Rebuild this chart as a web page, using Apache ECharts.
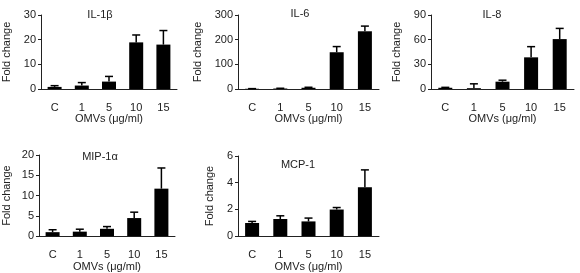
<!DOCTYPE html>
<html>
<head>
<meta charset="utf-8">
<script src="https://cdn.jsdelivr.net/npm/echarts@6/dist/echarts.min.js"></script>
<style>html,body{margin:0;padding:0;background:#fff}#c{width:580px;height:273px}</style>
</head>
<body>
<div id="c"></div>
<script>
const categories = ['C', '1', '5', '10', '15'];
const il1b = [0.85, 1.4, 3.0, 18.9, 18.0];
const il1bErr = [0.5, 1.2, 2.1, 3.0, 5.7];
const il6 = [1, 2, 5, 149, 234];
const il6Err = [0.5, 1, 2, 23, 21];
const il8 = [1.5, 1.0, 8.9, 38.5, 60.7];
const il8Err = [0.5, 5.3, 1.8, 13, 13];
const mip = [0.97, 1.1, 1.8, 4.45, 11.7];
const mipErr = [0.6, 0.6, 0.55, 1.45, 5.1];
const mcp = [0.98, 1.28, 1.1, 1.99, 3.66];
const mcpErr = [0.12, 0.24, 0.25, 0.15, 1.3];
const titles = ['IL-1β', 'IL-6', 'IL-8', 'MIP-1α', 'MCP-1'];
const yMax = [30, 300, 90, 20, 6];
const yInterval = [10, 100, 30, 5, 2];

const panels = [
  {vals: il1b, errs: il1bErr},
  {vals: il6, errs: il6Err},
  {vals: il8, errs: il8Err},
  {vals: mip, errs: mipErr},
  {vals: mcp, errs: mcpErr}
];

const layout = [
  {left: 35, top: 15, width: 142, height: 74, gap: 29, tx: 100, ty: 15},
  {left: 238, top: 15, width: 141, height: 74, gap: 35, tx: 300, ty: 14},
  {left: 431, top: 15, width: 143, height: 74, gap: 29, tx: 492, ty: 15},
  {left: 34, top: 155, width: 141, height: 82, gap: 27, tx: 100, ty: 157},
  {left: 238, top: 156, width: 141, height: 81, gap: 23, tx: 298, ty: 165}
];

const font = 'Liberation Sans, Arial, sans-serif';
const txt = '#222';
const grid = [], xAxis = [], yAxis = [], series = [], graphic = [];

layout.forEach((L, i) => {
  grid.push({left: L.left, top: L.top, width: L.width, height: L.height, containLabel: false});
  xAxis.push({
    type: 'category', gridIndex: i, data: categories,
    axisLine: {lineStyle: {color: '#222', width: 1}},
    axisTick: {show: false},
    axisLabel: {color: txt, fontSize: 11, fontFamily: font, margin: 13},
    name: 'OMVs (μg/ml)', nameLocation: 'middle', nameGap: 23,
    nameTextStyle: {color: txt, fontSize: 11, fontFamily: font}
  });
  yAxis.push({
    type: 'value', gridIndex: i, min: 0, max: yMax[i], interval: yInterval[i],
    axisLine: {show: true, lineStyle: {color: '#222', width: 1}},
    axisTick: {show: true, length: 3, lineStyle: {color: '#222'}},
    splitLine: {show: false},
    axisLabel: {color: txt, fontSize: 11, fontFamily: font, margin: 5},
    name: 'Fold change', nameLocation: 'middle', nameGap: L.gap, nameRotate: 90,
    nameTextStyle: {color: txt, fontSize: 11, fontFamily: font}
  });
  series.push({
    type: 'bar', xAxisIndex: i, yAxisIndex: i, data: panels[i].vals,
    barWidth: 14, itemStyle: {color: '#000'}, silent: true
  });
  const errData = panels[i].vals.map((v, k) => [k, v, v + panels[i].errs[k]]);
  series.push({
    type: 'custom', xAxisIndex: i, yAxisIndex: i, data: errData, silent: true, z: 5,
    renderItem: function (params, api) {
      const x = api.value(0);
      const p0 = api.coord([x, api.value(1)]);
      const p1 = api.coord([x, api.value(2)]);
      const hw = 4;
      const st = {stroke: '#000', lineWidth: 1.5};
      return {type: 'group', children: [
        {type: 'line', shape: {x1: p0[0], y1: p0[1], x2: p1[0], y2: p1[1]}, style: st},
        {type: 'line', shape: {x1: p1[0] - hw, y1: p1[1], x2: p1[0] + hw, y2: p1[1]}, style: st}
      ]};
    }
  });
  graphic.push({
    type: 'text', left: L.tx, top: L.ty,
    style: {text: titles[i], x: 0, y: 0, fill: txt, fontSize: 11, fontFamily: font, align: 'center', verticalAlign: 'middle'}
  });
});

const chart = echarts.init(document.getElementById('c'), null, {renderer: 'canvas'});
chart.setOption({animation: false, grid, xAxis, yAxis, series});
// titles via graphic with absolute position
chart.setOption({graphic: layout.map((L, i) => ({
  type: 'text', x: L.tx, y: L.ty,
  style: {text: titles[i], fill: txt, fontSize: 11, fontFamily: font, align: 'center', verticalAlign: 'middle'}
}))});
</script>
</body>
</html>
